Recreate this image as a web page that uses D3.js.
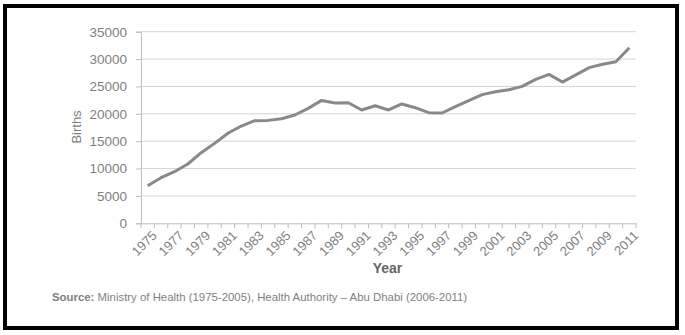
<!DOCTYPE html>
<html>
<head>
<meta charset="utf-8">
<script src="https://cdn.jsdelivr.net/npm/d3@7"></script>
<style>
html,body{margin:0;padding:0;background:#fff;}
svg{display:block;font-family:"Liberation Sans",Arial,sans-serif;}
</style>
</head>
<body>
<svg id="chart" width="685" height="335"></svg>
<script>
const years = d3.range(1975, 2012).map(String);
const births = [6870, 8330, 9430, 10830, 12900, 14600, 16440, 17770, 18740, 18800,
  19100, 19780, 21000, 22450, 21980, 22030, 20700, 21480, 20700, 21800,
  21120, 20200, 20150, 21300, 22400, 23500, 24040, 24400, 25020, 26300,
  27200, 25800, 27100, 28430, 29040, 29520, 32080];
const yTicks = [0, 5000, 10000, 15000, 20000, 25000, 30000, 35000];
const xLabels = years.filter((d, i) => i % 2 === 0);
const yTitle = "Births";
const xTitle = "Year";
const sourceBold = "Source:";
const sourceText = " Ministry of Health (1975-2005), Health Authority \u2013 Abu Dhabi (2006-2011)";

const svg = d3.select("#chart");
const L = 141, R = 636, T = 31.7, B = 223.3;

// frame
svg.append("rect").attr("x", 5).attr("y", 6).attr("width", 672).attr("height", 322)
  .attr("fill", "none").attr("stroke", "#000").attr("stroke-width", 4);

const x = d3.scaleBand().domain(years).range([L, R]);
const y = d3.scaleLinear().domain([0, 35000]).range([B, T]);

// grid
svg.append("g").selectAll("line").data(yTicks.filter(d => d > 0)).join("line")
  .attr("x1", L).attr("x2", R)
  .attr("y1", d => y(d)).attr("y2", d => y(d))
  .attr("stroke", "#d4d4d4").attr("stroke-width", 1);

// y axis
const yAxis = svg.append("g").attr("transform", `translate(${L},0)`)
  .call(d3.axisLeft(y).tickValues(yTicks).tickSize(5).tickPadding(9).tickFormat(d3.format("d")));
yAxis.select(".domain").attr("stroke", "#bdbdbd");
yAxis.selectAll(".tick line").attr("stroke", "#bdbdbd");
yAxis.selectAll(".tick text").attr("fill", "#7f7f7f").attr("font-size", 13.5)
  .attr("font-family", "Liberation Sans, Arial, sans-serif");

// x axis
const xAxis = svg.append("g").attr("transform", `translate(0,${B})`)
  .call(d3.axisBottom(x).tickSize(0).tickFormat(""));
xAxis.select(".domain").attr("stroke", "#bdbdbd");
xAxis.selectAll(".tick").remove();
const bounds = years.map(d => x(d)).concat([R]);
xAxis.append("g").selectAll("line").data(bounds).join("line")
  .attr("x1", d => d).attr("x2", d => d).attr("y1", 0).attr("y2", 5)
  .attr("stroke", "#bdbdbd");
xAxis.append("g").selectAll("text").data(xLabels).join("text")
  .attr("transform", d => `translate(${x(d) + x.bandwidth() / 2 + 4},7) rotate(-45)`)
  .attr("text-anchor", "end").attr("dy", "0.65em")
  .attr("fill", "#7f7f7f").attr("font-size", 13).text(d => d);

// line
const line = d3.line().x((d, i) => x(years[i]) + x.bandwidth() / 2).y(d => y(d));
svg.append("path").datum(births).attr("d", line)
  .attr("fill", "none").attr("stroke", "#898989").attr("stroke-width", 3)
  .attr("stroke-linejoin", "round");

// titles
svg.append("text").attr("transform", `translate(81,127) rotate(-90)`)
  .attr("text-anchor", "middle").attr("fill", "#7f7f7f").attr("font-size", 13)
  .text(yTitle);
svg.append("text").attr("x", (L + R) / 2 - 1).attr("y", 273)
  .attr("text-anchor", "middle").attr("fill", "#666").attr("font-size", 14)
  .attr("font-weight", "bold").text(xTitle);

const src = svg.append("text").attr("x", 52).attr("y", 301).attr("fill", "#7f7f7f").attr("font-size", 11.4);
src.append("tspan").attr("font-weight", "bold").text(sourceBold);
src.append("tspan").text(sourceText);
</script>
</body>
</html>
